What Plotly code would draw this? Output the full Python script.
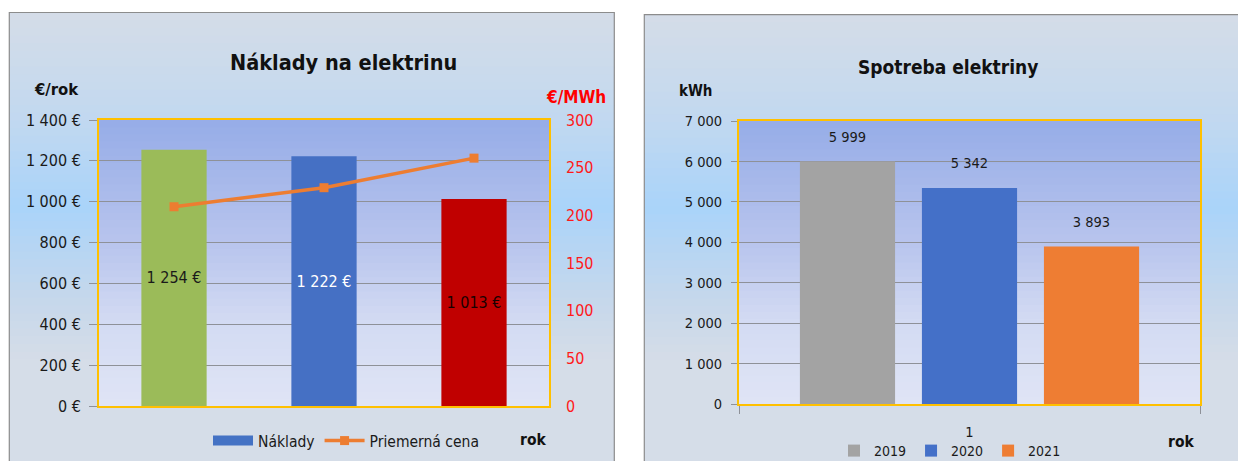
import plotly.graph_objects as go

# ---------------- data ----------------
cost_years = ["2019", "2020", "2021"]
cost_values = [1254, 1222, 1013]
price_values = [209, 229, 260]
cost_colors = ["#9BBB59", "#4570C4", "#C00000"]
cost_text_colors = ["#1a1a1a", "#ffffff", "#1a0000"]

cons_category = ["1"]
cons_series = ["2019", "2020", "2021"]
cons_values = [5999, 5342, 3893]
cons_colors = ["#A3A3A3", "#4470C8", "#EE7D33"]

W, H = 1238, 461
FONT = "DejaVu Sans Condensed, Liberation Sans Narrow, sans-serif"


def fx(px):
    return px / W


def fy(py):
    return (H - py) / H


def hex_rgb(h):
    h = h.lstrip("#")
    return tuple(int(h[i:i + 2], 16) for i in (0, 2, 4))


def color_at(stops, t):
    for (t0, c0), (t1, c1) in zip(stops[:-1], stops[1:]):
        if t0 <= t <= t1:
            a = (t - t0) / (t1 - t0) if t1 > t0 else 0
            r0, g0, b0 = hex_rgb(c0)
            r1, g1, b1 = hex_rgb(c1)
            return "rgb(%d,%d,%d)" % (r0 + (r1 - r0) * a, g0 + (g1 - g0) * a, b0 + (b1 - b0) * a)
    return stops[-1][1]


def gradient(x0, x1, ytop, ybot, stops, n, xref, yref):
    out = []
    for i in range(n):
        t0, t1 = i / n, (i + 1) / n
        ya = ytop + (ybot - ytop) * t0
        yb = ytop + (ybot - ytop) * t1
        eps = (ybot - ytop) * 0.004
        out.append(dict(type="rect", xref=xref, yref=yref, x0=x0, x1=x1,
                        y0=ya, y1=yb + eps, fillcolor=color_at(stops, (t0 + t1) / 2),
                        line=dict(width=0), layer="below"))
    return out


panel_stops = [(0, "#D5DDE8"), (0.22, "#C3D9F0"), (0.42, "#AAD4FA"), (0.62, "#C6D8EC"),
               (0.75, "#D5DDE8"), (1, "#D5DDE8")]
area_stops = [(0, "#96ADE8"), (0.45, "#BAC6EE"), (0.7, "#D3DBF3"), (1, "#E0E5F6")]

shapes = []
shapes += gradient(fx(9.3), fx(614.3), fy(12.5), fy(475), panel_stops, 60, "paper", "paper")
shapes += gradient(fx(644.3), fx(1250), fy(14.7), fy(475), panel_stops, 60, "paper", "paper")
shapes.append(dict(type="rect", xref="paper", yref="paper", x0=fx(9.3), x1=fx(614.3),
                   y0=fy(480), y1=fy(12.5), line=dict(color="#8C8C8C", width=1.2),
                   fillcolor="rgba(0,0,0,0)", layer="below"))
shapes.append(dict(type="rect", xref="paper", yref="paper", x0=fx(644.3), x1=fx(1260),
                   y0=fy(480), y1=fy(14.7), line=dict(color="#8C8C8C", width=1.2),
                   fillcolor="rgba(0,0,0,0)", layer="below"))
shapes += gradient(0, 1, 1, 0, area_stops, 40, "x domain", "y domain")
shapes += gradient(0, 1, 1, 0, area_stops, 40, "x2 domain", "y3 domain")

fig = go.Figure()

# ---- left chart ----
fig.add_trace(go.Bar(
    x=cost_years, y=cost_values, marker=dict(color=cost_colors, line=dict(width=0)),
    width=0.435, texttemplate="%{y:,d} €", textposition="inside", insidetextanchor="middle",
    textangle=0, constraintext="none",
    textfont=dict(color=cost_text_colors, size=16, family=FONT), showlegend=False,
    xaxis="x", yaxis="y", name="Náklady", hoverinfo="skip"))
fig.add_trace(go.Scatter(
    x=[None], y=[None], mode="lines", line=dict(color="#4472C4", width=10),
    name="Náklady", legend="legend", xaxis="x", yaxis="y"))
fig.add_trace(go.Scatter(
    x=cost_years, y=price_values, mode="lines+markers", name="Priemerná cena",
    line=dict(color="#ED7D31", width=3.5), marker=dict(symbol="square", size=9, color="#ED7D31"),
    xaxis="x", yaxis="y2", legend="legend"))

# ---- right chart ----
for s, v, c in zip(cons_series, cons_values, cons_colors):
    fig.add_trace(go.Bar(
        x=cons_category, y=[v], name=s, marker=dict(color=c, line=dict(width=0)),
        offsetgroup=s, alignmentgroup="cons",
        xaxis="x2", yaxis="y3", legend="legend2", hoverinfo="skip"))
for s, v in zip(cons_series, cons_values):
    fig.add_trace(go.Scatter(
        x=cons_category, y=[v], mode="markers+text", texttemplate="%{y:,d}",
        textposition="top center", marker=dict(size=24, opacity=0),
        textfont=dict(size=14.5, color="#1a1a1a", family=FONT),
        offsetgroup=s, alignmentgroup="conslabels",
        showlegend=False, xaxis="x2", yaxis="y3", hoverinfo="skip"))

grid = "#8E9198"
gold = "#FFC000"
tickfont_l = dict(size=16, color="#1a1a1a", family=FONT)
tickfont_r = dict(size=14.5, color="#1a1a1a", family=FONT)

fig.update_layout(
    width=W, height=H, autosize=False,
    margin=dict(l=0, r=0, t=0, b=0, autoexpand=False),
    paper_bgcolor="white", plot_bgcolor="rgba(0,0,0,0)",
    separators=", ",
    font=dict(family=FONT, size=16, color="#1a1a1a"),
    barmode="group", bargap=0.206, bargroupgap=0.22,
    scattermode="group", scattergap=0.206,
    shapes=shapes,
    xaxis=dict(domain=[fx(99), fx(549)], anchor="y", showticklabels=False, ticks="",
               showgrid=False, showline=True, linecolor=gold, linewidth=2, mirror=True),
    yaxis=dict(domain=[fy(406), fy(120)], anchor="x", range=[0, 1400], dtick=200,
               tickformat=",d", ticksuffix=" €", tickfont=tickfont_l,
               ticks="outside", ticklen=8, tickcolor=grid, tickwidth=1.3,
               ticklabelstandoff=5,
               showgrid=True, gridcolor=grid, gridwidth=1.3,
               showline=True, linecolor=gold, linewidth=2, mirror=True, zeroline=False),
    yaxis2=dict(overlaying="y", side="right", anchor="x", range=[0, 300], dtick=50,
                tickfont=dict(size=16, color="#FF1A1A", family=FONT), ticks="",
                ticklabelstandoff=16, showgrid=False, showline=False, zeroline=False),
    xaxis2=dict(domain=[fx(739), fx(1200)], anchor="y3", tickfont=tickfont_r,
                ticks="outside", tickson="boundaries", ticklen=8, tickcolor=grid,
                ticklabelstandoff=14,
                showgrid=False, showline=True, linecolor=gold, linewidth=2, mirror=True),
    yaxis3=dict(domain=[fy(404), fy(121)], anchor="x2", range=[0, 7000], dtick=1000,
                tickformat=",d", tickfont=tickfont_r,
                ticks="outside", ticklen=6, tickcolor=grid, tickwidth=1.3,
                ticklabelstandoff=6,
                showgrid=True, gridcolor=grid, gridwidth=1.3,
                showline=True, linecolor=gold, linewidth=2, mirror=True, zeroline=False),
    legend=dict(orientation="h", x=fx(208), y=fy(441), xanchor="left", yanchor="middle",
                bgcolor="rgba(0,0,0,0)", font=dict(size=15.5, family=FONT, color="#1a1a1a"),
                itemwidth=40, traceorder="normal"),
    legend2=dict(orientation="h", x=fx(950), y=fy(451), xanchor="center", yanchor="middle",
                 bgcolor="rgba(0,0,0,0)", font=dict(size=14, family=FONT, color="#1a1a1a"),
                 itemwidth=30, traceorder="normal"),
    annotations=[
        dict(text="<b>Náklady na elektrinu</b>", x=fx(343), y=fy(62),
             font=dict(size=21.5, family=FONT, color="#111")),
        dict(text="<b>€/rok</b>", x=fx(56.5), y=fy(90),
             font=dict(size=16.5, family=FONT, color="#111")),
        dict(text="<b>€/MWh</b>", x=fx(576), y=fy(97),
             font=dict(size=17, family=FONT, color="#FF0000")),
        dict(text="<b>rok</b>", x=fx(533), y=fy(440),
             font=dict(size=15.5, family=FONT, color="#111")),
        dict(text="<b>Spotreba elektriny</b>", x=fx(948), y=fy(67),
             font=dict(size=19, family=FONT, color="#111")),
        dict(text="<b>kWh</b>", x=fx(695), y=fy(91),
             font=dict(size=15, family=FONT, color="#111")),
        dict(text="<b>rok</b>", x=fx(1181), y=fy(442),
             font=dict(size=15.5, family=FONT, color="#111")),
    ],
)
fig.update_annotations(xref="paper", yref="paper", xanchor="center", yanchor="middle",
                       showarrow=False)

fig.write_html("out.html", config={"displayModeBar": False},
               post_script="document.body.style.margin='0';document.body.style.overflow='hidden';")
